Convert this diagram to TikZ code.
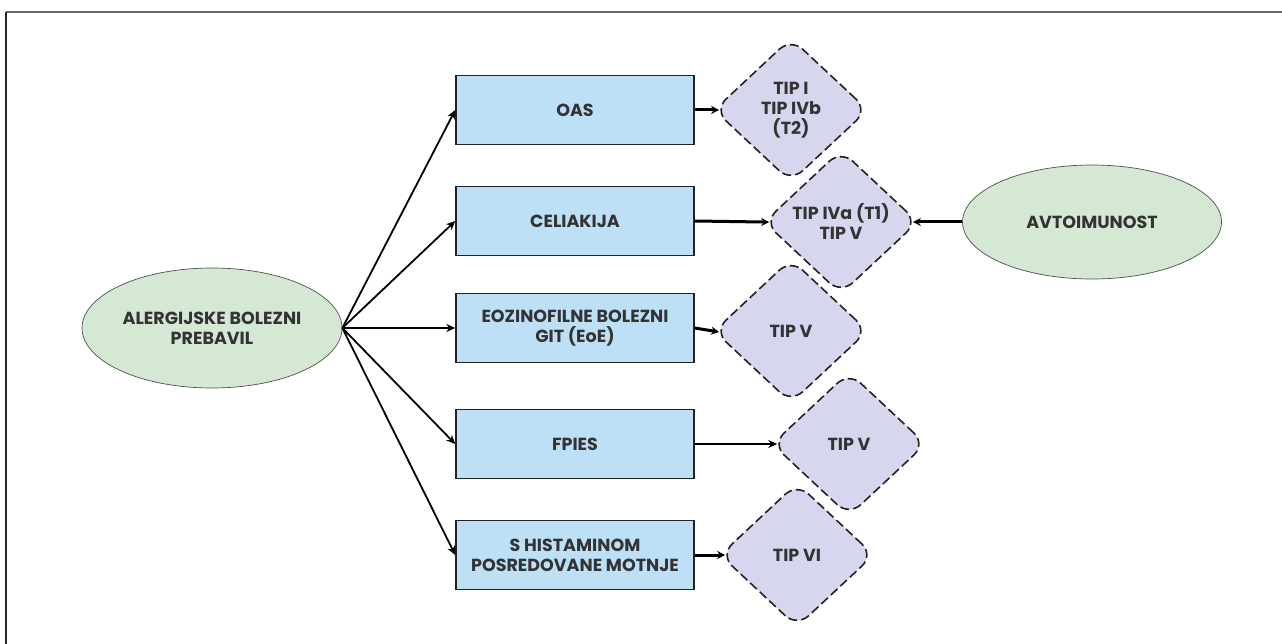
\documentclass[tikz,border=0pt]{standalone}
\usepackage{fontspec}
\setmainfont{Poppins}
\usetikzlibrary{shapes.geometric,arrows.meta}
\definecolor{boxblue}{HTML}{BDE0F7}
\definecolor{lav}{HTML}{D6D6EE}
\definecolor{lgreen}{HTML}{D5E8D4}
\definecolor{txt}{HTML}{333333}
\definecolor{edge}{HTML}{222222}
\begin{document}
\begin{tikzpicture}[x=1pt,y=-1pt,
  every node/.style={font=\fontsize{17.5}{20}\selectfont\bfseries, text=txt, align=center},
  oval/.style={ellipse, draw=edge!80, line width=0.7pt, fill=lgreen, inner sep=0pt},
  rbox/.style={rectangle, draw=edge, line width=1.5pt, fill=boxblue, minimum width=238pt, minimum height=69pt, inner sep=0pt},
  rdia/.style={diamond, draw=edge, line width=1.6pt, dash pattern=on 9pt off 4pt, fill=lav, minimum width=154pt, minimum height=144pt, inner sep=0pt, rounded corners=16pt},
  thinarr/.style={draw=black, line width=1.8pt, -{Stealth[length=9pt,width=8pt]}},
  thickarr/.style={draw=black, line width=3pt, -{Stealth[length=8pt,width=8pt]}},
  todia/.style={shorten >=-6pt}
]
\useasboundingbox (0,0) rectangle (1282,644);
\draw[gray!80!black, line width=1.2pt] (1282,12) -- (6,12);
\draw[black!85, line width=1.2pt] (6,12) -- (6,644);

\node[oval, minimum width=260pt, minimum height=120pt] (alg) at (212,328) {ALERGIJSKE BOLEZNI\\PREBAVIL};
\node[oval, minimum width=259pt, minimum height=114pt] (avt) at (1092,222) {AVTOIMUNOST};

\node[rbox] (oas) at (575,110) {OAS};
\node[rbox] (cel) at (575,221) {CELIAKIJA};
\node[rbox] (eoe) at (575,328) {EOZINOFILNE BOLEZNI\\GIT (EoE)};
\node[rbox] (fpi) at (575,444) {FPIES};
\node[rbox] (his) at (575,555) {S HISTAMINOM\\POSREDOVANE MOTNJE};

\node[rdia] (d1) at (791,110) {TIP I\\TIP IVb\\(T2)};
\node[rdia] (d2) at (841,222) {TIP IVa (T1)\\TIP V};
\node[rdia] (d3) at (791,331) {TIP V};
\node[rdia] (d4) at (849,444) {TIP V};
\node[rdia] (d5) at (797,555) {TIP VI};

\foreach \t in {oas,cel,eoe,fpi,his}
  \draw[thinarr] (alg.east) -- (\t.west);

\draw[thickarr,todia] (oas.east) -- (d1.west);
\draw[thickarr,todia] (cel.east) -- (d2.west);
\draw[thickarr,todia] (eoe.east) -- (d3.west);
\draw[thinarr,todia] (fpi.east) -- (d4.west);
\draw[thickarr,todia] (his.east) -- (d5.west);
\draw[thickarr,todia] (avt.west) -- (d2.east);
\end{tikzpicture}
\end{document}
